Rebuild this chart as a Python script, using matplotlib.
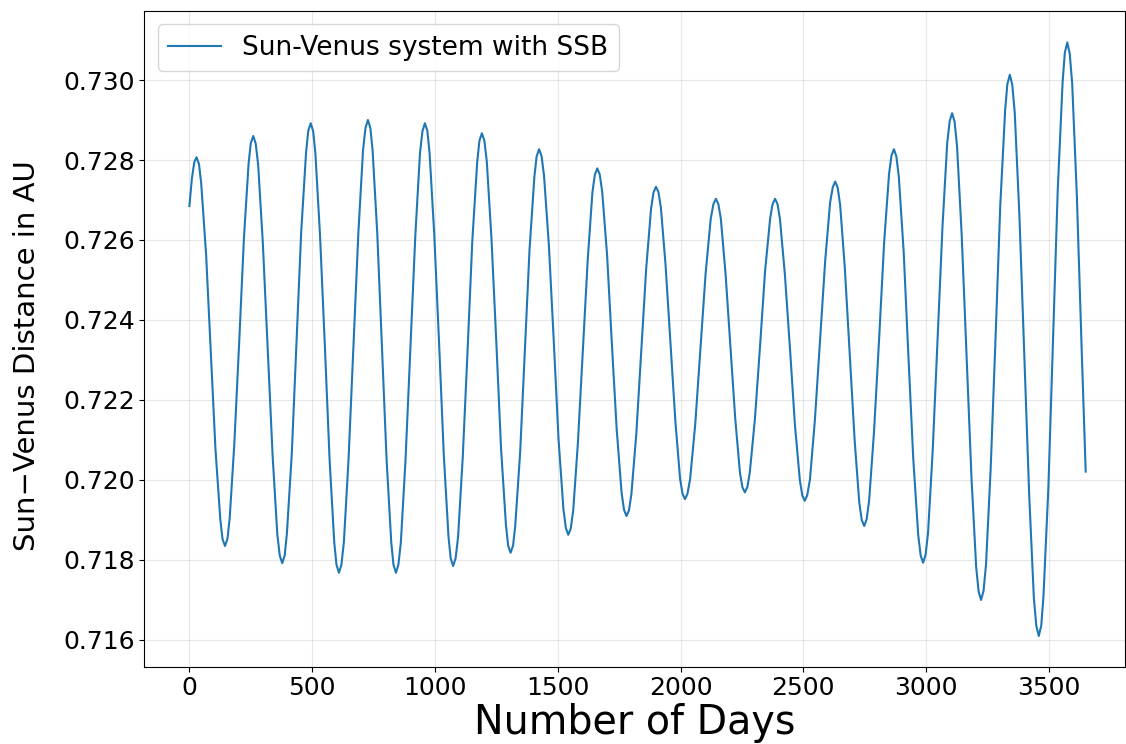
import matplotlib
matplotlib.use("Agg")
import matplotlib.pyplot as plt

# values (day, Sun-Venus distance in AU)
days = [
    0, 10, 20, 29,
    39, 48, 68, 87, 106, 126, 135, 145,
    155, 164, 183, 203, 222, 241, 250, 260,
    270, 280, 299, 319, 339, 358, 368, 378,
    388, 397, 417, 436, 455, 475, 484, 494,
    504, 513, 532, 552, 571, 590, 599, 609,
    619, 629, 648, 668, 688, 707, 717, 727,
    737, 746, 765, 784, 803, 822, 831, 841,
    851, 861, 880, 900, 920, 939, 949, 959,
    969, 978, 997, 1017, 1036, 1055, 1064, 1074,
    1084, 1094, 1113, 1133, 1152, 1172, 1181, 1191,
    1201, 1211, 1230, 1250, 1269, 1289, 1298, 1308,
    1318, 1327, 1347, 1366, 1385, 1405, 1414, 1424,
    1434, 1444, 1464, 1484, 1503, 1523, 1533, 1543,
    1553, 1563, 1582, 1602, 1622, 1641, 1651, 1661,
    1671, 1681, 1701, 1720, 1740, 1760, 1770, 1780,
    1790, 1800, 1820, 1840, 1860, 1880, 1890, 1900,
    1910, 1920, 1939, 1959, 1979, 1998, 2008, 2018,
    2028, 2039, 2060, 2081, 2102, 2123, 2134, 2144,
    2154, 2164, 2183, 2203, 2223, 2242, 2252, 2262,
    2272, 2282, 2303, 2324, 2344, 2365, 2375, 2385,
    2395, 2405, 2425, 2446, 2466, 2486, 2496, 2506,
    2516, 2527, 2547, 2568, 2589, 2609, 2620, 2630,
    2640, 2650, 2669, 2689, 2709, 2728, 2738, 2748,
    2758, 2768, 2788, 2809, 2829, 2849, 2859, 2869,
    2879, 2889, 2909, 2928, 2948, 2968, 2978, 2988,
    2998, 3008, 3027, 3047, 3067, 3086, 3096, 3106,
    3116, 3126, 3145, 3165, 3185, 3204, 3214, 3224,
    3234, 3244, 3263, 3283, 3302, 3322, 3331, 3341,
    3351, 3361, 3380, 3400, 3420, 3439, 3449, 3459,
    3469, 3478, 3498, 3517, 3536, 3556, 3565, 3575,
    3585, 3595, 3614, 3634, 3650,
]

distance = [
    0.72685, 0.72753, 0.72795, 0.72807,
    0.72790, 0.72742, 0.72564, 0.72321, 0.72078, 0.71900, 0.71852, 0.71835,
    0.71853, 0.71904, 0.72091, 0.72348, 0.72604, 0.72791, 0.72842, 0.72860,
    0.72841, 0.72788, 0.72593, 0.72326, 0.72059, 0.71864, 0.71811, 0.71792,
    0.71811, 0.71866, 0.72067, 0.72342, 0.72617, 0.72818, 0.72873, 0.72892,
    0.72872, 0.72817, 0.72611, 0.72330, 0.72049, 0.71843, 0.71788, 0.71768,
    0.71788, 0.71844, 0.72051, 0.72334, 0.72617, 0.72824, 0.72880, 0.72900,
    0.72880, 0.72824, 0.72617, 0.72334, 0.72051, 0.71844, 0.71788, 0.71768,
    0.71788, 0.71843, 0.72049, 0.72330, 0.72611, 0.72817, 0.72872, 0.72892,
    0.72873, 0.72818, 0.72615, 0.72339, 0.72062, 0.71859, 0.71804, 0.71785,
    0.71804, 0.71857, 0.72055, 0.72326, 0.72597, 0.72795, 0.72848, 0.72867,
    0.72849, 0.72797, 0.72605, 0.72343, 0.72080, 0.71888, 0.71836, 0.71818,
    0.71836, 0.71886, 0.72070, 0.72323, 0.72575, 0.72759, 0.72809, 0.72827,
    0.72810, 0.72762, 0.72586, 0.72345, 0.72104, 0.71928, 0.71880, 0.71863,
    0.71879, 0.71924, 0.72092, 0.72321, 0.72550, 0.72718, 0.72763, 0.72779,
    0.72764, 0.72721, 0.72562, 0.72345, 0.72127, 0.71968, 0.71925, 0.71910,
    0.71924, 0.71965, 0.72116, 0.72322, 0.72527, 0.72678, 0.72719, 0.72733,
    0.72720, 0.72681, 0.72538, 0.72343, 0.72147, 0.72004, 0.71966, 0.71952,
    0.71965, 0.72002, 0.72140, 0.72328, 0.72515, 0.72653, 0.72690, 0.72703,
    0.72690, 0.72654, 0.72519, 0.72336, 0.72152, 0.72018, 0.71982, 0.71969,
    0.71982, 0.72018, 0.72153, 0.72336, 0.72520, 0.72654, 0.72690, 0.72703,
    0.72690, 0.72652, 0.72514, 0.72326, 0.72137, 0.71999, 0.71961, 0.71948,
    0.71962, 0.72001, 0.72148, 0.72347, 0.72547, 0.72693, 0.72732, 0.72746,
    0.72731, 0.72688, 0.72531, 0.72316, 0.72100, 0.71943, 0.71900, 0.71885,
    0.71902, 0.71948, 0.72121, 0.72356, 0.72592, 0.72764, 0.72811, 0.72827,
    0.72809, 0.72758, 0.72568, 0.72310, 0.72051, 0.71862, 0.71811, 0.71793,
    0.71813, 0.71868, 0.72074, 0.72355, 0.72636, 0.72842, 0.72897, 0.72917,
    0.72896, 0.72835, 0.72613, 0.72309, 0.72004, 0.71782, 0.71721, 0.71700,
    0.71723, 0.71788, 0.72028, 0.72357, 0.72685, 0.72925, 0.72990, 0.73013,
    0.72988, 0.72919, 0.72662, 0.72312, 0.71961, 0.71704, 0.71635, 0.71610,
    0.71636, 0.71709, 0.71981, 0.72352, 0.72723, 0.72995, 0.73068, 0.73094,
    0.73066, 0.72991, 0.72710, 0.72319, 0.72021,
]

y_ticks = [0.716, 0.718, 0.720, 0.722, 0.724, 0.726, 0.728, 0.730]
x_ticks = [0, 500, 1000, 1500, 2000, 2500, 3000, 3500]

fig = plt.figure(figsize=(11.26, 7.44), dpi=100)
ax = fig.add_axes([0.1283, 0.1039, 0.8708, 0.8813])

ax.plot(days, distance, color='#1f77b4', linewidth=1.5, label='Sun-Venus system with SSB')

ax.set_xlim(-183, 3810)
ax.set_ylim(0.715332, 0.731725)
ax.set_xticks(x_ticks)
ax.set_yticks(y_ticks)
ax.set_yticklabels([f"{v:.3f}" for v in y_ticks])
ax.tick_params(labelsize=18)

ax.set_xlabel('Number of Days', fontsize=28.5, labelpad=2)
ax.set_ylabel('Sun\u2212Venus Distance in AU', fontsize=21, labelpad=16)
ax.yaxis.label.set_y(0.4746)
ax.grid(True, alpha=0.3)
ax.legend(loc='upper left', fontsize=19)

fig.savefig('out.png', dpi=100)
